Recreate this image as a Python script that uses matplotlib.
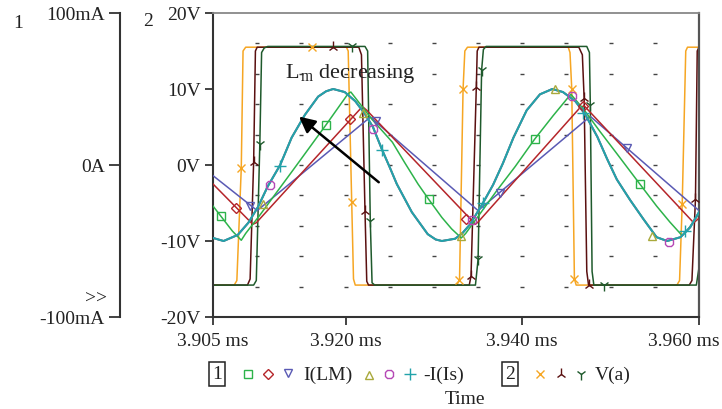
import matplotlib
matplotlib.use("Agg")
import matplotlib.pyplot as plt
import matplotlib.transforms as mtrans
import numpy as np

plt.rcParams['font.family'] = ['Liberation Serif', 'DejaVu Serif']
plt.rcParams['mathtext.fontset'] = 'custom'
plt.rcParams['mathtext.rm'] = 'Liberation Serif'
plt.rcParams['mathtext.it'] = 'Liberation Serif:italic'

# ---- data (time in microseconds, voltages in V, currents in mA) ----
# V(a), run 1 (orange)
va1_t = [3905.0, 3907.4, 3907.7, 3908.2, 3908.4, 3908.7, 3920.1, 3920.3, 3920.4, 3920.9, 3921.1,
         3932.6, 3932.9, 3933.3, 3933.5, 3933.8, 3945.2, 3945.4, 3945.6, 3945.9, 3946.1,
         3957.5, 3957.8, 3958.1, 3958.5, 3958.7, 3960.0]
va1_v = [-15.8, -15.8, -15.2, -0.4, 15.0, 15.5, 15.5, 15.0, 10.0, -15.0, -15.8,
         -15.8, -15.1, 10.0, 15.0, 15.5, 15.5, 14.8, 10.0, -15.0, -15.8,
         -15.8, -15.2, -5.1, 15.0, 15.5, 15.5]
va1_mt = [3908.2, 3916.2, 3920.7, 3932.8, 3933.3, 3945.6, 3945.9, 3958.1]
va1_mv = [-0.4, 15.5, -4.9, -15.1, 10.0, 10.0, -15.0, -5.1]

# V(a), run 2 (maroon)
va2_t = [3905.0, 3908.9, 3909.2, 3909.6, 3909.8, 3910.0, 3921.5, 3921.8, 3922.2, 3922.4, 3922.6,
         3934.0, 3934.2, 3934.8, 3934.9, 3935.1, 3946.4, 3946.8, 3947.0, 3947.3, 3947.5,
         3958.9, 3959.2, 3959.6, 3959.8, 3960.0]
va2_v = [-15.8, -15.8, -15.0, 0.4, 15.0, 15.5, 15.5, 14.5, -6.0, -15.3, -15.8,
         -15.8, -14.6, 10.3, 15.0, 15.5, 15.5, 14.5, 8.8, -14.0, -15.8,
         -15.8, -15.2, -4.5, 15.0, 15.5]
va2_mt = [3909.6, 3918.6, 3922.2, 3934.2, 3934.8, 3947.0, 3947.5, 3959.6]
va2_mv = [0.4, 15.5, -6.0, -14.6, 10.3, 8.8, -15.8, -4.5]

# V(a), run 3 (dark green)
va3_t = [3905.0, 3909.6, 3909.9, 3910.3, 3910.5, 3910.8, 3911.2, 3922.2, 3922.5, 3922.8, 3923.0, 3923.3,
         3934.7, 3935.0, 3935.4, 3935.6, 3935.9, 3947.3, 3947.6, 3947.7, 3947.9, 3948.1,
         3959.7, 3960.0, 3960.3]
va3_v = [-15.8, -15.8, -15.2, 2.8, 14.8, 15.4, 15.6, 15.6, 15.0, -7.4, -15.5, -15.8,
         -15.8, -12.4, 12.5, 15.2, 15.6, 15.6, 14.8, 7.9, -14.0, -15.8,
         -15.8, -13.5, 15.0]
va3_mt = [3910.3, 3920.7, 3922.8, 3935.0, 3935.4, 3947.7, 3949.3]
va3_mv = [2.8, 15.6, -7.4, -12.4, 12.5, 7.9, -15.8]

# -I(Is): the three runs overlap on screen
is_t = [3905.0, 3906.2, 3907.8, 3909.0, 3910.1, 3911.2, 3912.6, 3913.9, 3915.4, 3916.9, 3917.8,
        3918.6, 3919.9, 3921.1, 3922.2, 3923.1, 3924.1, 3925.0, 3925.8, 3927.5, 3929.3, 3930.2,
        3930.9, 3932.4, 3933.2, 3934.1, 3935.6, 3936.7, 3937.8, 3939.0, 3940.5, 3942.0, 3943.4,
        3944.6, 3946.0, 3947.1, 3948.5, 3949.6, 3950.7, 3952.2, 3953.7, 3955.2, 3956.4, 3957.9,
        3959.0, 3960.0]
is_i = [-48, -50, -46, -38, -27.5, -14, 0, 18, 33, 45, 48.5,
        50, 48, 42, 33.5, 25, 10.5, -1.5, -12.5, -31, -45.5, -49,
        -50, -48.5, -45, -39, -24.5, -13, 1, 18, 36, 46.5, 50,
        48, 42, 33.5, 18.5, 4, -9.5, -23, -35.5, -47.5, -50, -47.5,
        -41, -31]
is1_mt = [3910.7, 3922.0, 3933.1, 3943.7, 3954.7]
is1_mi = [-25.5, 34, -46.5, 50, -46.5]
is2_mt = [3911.5, 3923.1, 3934.3, 3945.6, 3956.6]
is2_mi = [-13, 23.5, -36, 45.5, -50.5]
is3_mt = [3912.6, 3924.1, 3935.6, 3946.9, 3958.4]
is3_mi = [-0.5, 10, -25, 34, -43.5]

# I(LM), run 1 (green)
lm1_t = [3905.0, 3905.8, 3907.2, 3908.2, 3908.7, 3910.3, 3914.1, 3917.8, 3920.3, 3920.6, 3921.4,
         3923.0, 3925.3, 3926.7, 3928.2, 3929.4, 3930.9, 3932.0, 3933.1, 3933.6, 3935.6, 3937.1,
         3939.2, 3941.4, 3943.5, 3945.2, 3945.5, 3946.9, 3948.8, 3950.7, 3953.3, 3955.2, 3956.7,
         3958.1, 3958.8, 3960.0]
lm1_i = [-27, -33, -43.5, -49.5, -45, -33, -3, 26.5, 47, 48, 42,
         30, 15, 1.5, -12.5, -22.5, -34.5, -42, -48, -45, -29, -17,
         -1, 17, 32.5, 44.5, 46.5, 37, 22, 7.5, -12.5, -27, -37.5,
         -46.5, -42, -32]
lm1_mt = [3905.9, 3917.8, 3929.4, 3941.4, 3953.3]
lm1_mi = [-33.5, 26.5, -22.5, 17, -12.5]

# I(LM), run 2 (red)
lm2_t = [3905.0, 3909.5, 3909.9, 3921.6, 3922.0, 3922.4, 3934.7, 3935.0, 3946.5, 3947.0, 3947.4,
         3959.4, 3960.0]
lm2_i = [-12.5, -39, -38, 36.5, 38, 36, -39, -37.5, 37.5, 39, 36.5, -38, -35]
lm2_mt = [3907.6, 3920.5, 3933.6, 3946.9]
lm2_mi = [-28.5, 30, -35.5, 39]

# I(LM), run 3 (blue)
lm3_t = [3905.0, 3910.0, 3922.8, 3935.0, 3947.7, 3960.0]
lm3_i = [-7, -30, 31.5, -30, 32, -30]
lm3_mt = [3909.2, 3923.4, 3937.5, 3951.9]
lm3_mi = [-27, 29, -18.5, 11.5]

x_ticks = [3905, 3920, 3940, 3960]
x_labels = ['3.905 ms', '3.920 ms', '3.940 ms', '3.960 ms']
v_ticks = [-20, -10, 0, 10, 20]
v_labels = ['-20V', '-10V', '0V', '10V', '20V']
i_ticks = [-100, 0, 100]
i_labels = ['-100mA', '0A', '100mA']

C_OR, C_MA, C_DG = '#F6A623', '#5A1010', '#1F5A2C'
C_GR, C_RD, C_BL = '#2DB34A', '#B5252A', '#5A5AB4'
C_OL, C_MG, C_TL = '#A9A93C', '#B548B5', '#22A3AA'

W, H = 722, 410
fig = plt.figure(figsize=(W / 100, H / 100), dpi=100)
ax = fig.add_axes([213 / W, 1 - 318 / H, (699 - 213) / W, (318 - 14) / H])
ax.set_xlim(3905, 3960)
ax.set_ylim(-20, 20)

# dotted grid
gt, gv = np.meshgrid(np.arange(3910, 3956, 5), np.arange(-16, 17, 4))
ax.plot(gt.ravel(), gv.ravel(), ls='none', marker='_', ms=2.2, mew=1.0, color='#444444', zorder=1)

lw = 1.1
mk = dict(ls='none', ms=6, mew=1.0, mfc='none', zorder=4)
ax.plot(va1_t, va1_v, color=C_OR, lw=lw, zorder=2)
ax.plot(va2_t, va2_v, color=C_MA, lw=lw, zorder=2)
ax.plot(va3_t, va3_v, color=C_DG, lw=lw, zorder=2)
ax.plot(va1_mt, va1_mv, marker='x', color=C_OR, **mk)
ax.plot(va2_mt, va2_mv, marker='2', color=C_MA, **dict(mk, ms=8))
ax.plot(va3_mt, va3_mv, marker='1', color=C_DG, **dict(mk, ms=8))

ax.set_xticks(x_ticks)
ax.set_xticklabels(x_labels)
ax.set_yticks(v_ticks)
ax.set_yticklabels(v_labels)
ax.tick_params(axis='both', direction='out', length=6, width=1.2, labelsize=14, colors='#222222')
ax.tick_params(axis='x', pad=5)
ax.tick_params(axis='y', pad=3)
for s in ['left', 'bottom']:
    ax.spines[s].set_linewidth(1.5)
    ax.spines[s].set_color('#333333')
ax.spines['top'].set_color('#888888')
ax.spines['top'].set_linewidth(1.3)
ax.spines['right'].set_color('#555555')
ax.spines['right'].set_linewidth(1.6)

last = ax.get_xticklabels()[-1]
last.set_transform(last.get_transform() + mtrans.ScaledTranslation(-0.15, 0, fig.dpi_scale_trans))

# current axis (axis 1)
ax2 = ax.twinx()
ax2.set_ylim(-100, 100)
ax2.yaxis.set_ticks_position('left')
ax2.spines['left'].set_position(('outward', 67))
ax2.spines['left'].set_visible(True)
ax2.spines['left'].set_linewidth(1.5)
ax2.spines['left'].set_color('#333333')
for s in ['right', 'top', 'bottom']:
    ax2.spines[s].set_visible(False)
ax2.set_yticks(i_ticks)
ax2.set_yticklabels(i_labels)
ax2.tick_params(axis='y', direction='out', length=8, width=1.2, labelsize=14, pad=3, colors='#222222')

ax2.plot(lm3_t, lm3_i, color=C_BL, lw=lw, zorder=2)
ax2.plot(lm2_t, lm2_i, color=C_RD, lw=lw, zorder=2)
ax2.plot(lm1_t, lm1_i, color=C_GR, lw=lw, zorder=2)
ax2.plot(is_t, is_i, color=C_OL, lw=1.3, zorder=3)
ax2.plot(is_t, is_i, color=C_MG, lw=1.3, zorder=3)
ax2.plot(is_t, is_i, color=C_TL, lw=1.5, zorder=3)
ax2.plot(lm1_mt, lm1_mi, marker='s', color=C_GR, **mk)
ax2.plot(lm2_mt, lm2_mi, marker='D', color=C_RD, **dict(mk, ms=5))
ax2.plot(lm3_mt, lm3_mi, marker='v', color=C_BL, **mk)
ax2.plot(is1_mt, is1_mi, marker='^', color=C_OL, **mk)
ax2.plot(is2_mt, is2_mi, marker='8', color=C_MG, **mk)
ax2.plot(is3_mt, is3_mi, marker='+', color=C_TL, **dict(mk, ms=8))

ax2.annotate('', xy=(3914.5, 6.6 * 5), xytext=(3924.0, -2.5 * 5),
             arrowprops=dict(arrowstyle='-|>', color='black', lw=1.8, mutation_scale=24))
ax2.text(3913.1, 12.2 * 5, r'$\mathrm{L}_{\mathrm{\,m}}$ decreasing', fontsize=16, ha='left',
         va='center', color='#222222')

# legend row, axis numbers (pixel layout)
lax = fig.add_axes([0, 0, 1, 1], zorder=-1)
lax.set_xlim(0, W)
lax.set_ylim(H, 0)
lax.axis('off')
tk = dict(fontsize=14, color='#222222', va='center')
lax.text(18, 24, '1', ha='center', **tk)
lax.text(148, 21, '2', ha='center', **tk)
lax.text(107, 299, '>>', ha='right', **tk)
box = dict(boxstyle='square,pad=0.18', fc='white', ec='#222222', lw=1.1)
lax.text(217, 375, '1', ha='center', bbox=box, **tk)
lax.text(510, 375, '2', ha='center', bbox=box, **tk)
lm = dict(ls='none', ms=6, mew=1.0, mfc='none')
lax.plot([248], [375], marker='s', color=C_GR, **lm)
lax.plot([268], [375], marker='D', color=C_RD, **dict(lm, ms=5))
lax.plot([288], [374], marker='v', color=C_BL, **lm)
lax.text(303, 375, 'I(LM)', ha='left', **tk)
lax.plot([369], [376], marker='^', color=C_OL, **lm)
lax.plot([389], [375], marker='8', color=C_MG, **lm)
lax.plot([410], [375], marker='+', color=C_TL, **dict(lm, ms=8))
lax.text(423, 375, '-I(Is)', ha='left', **tk)
lax.plot([540], [375], marker='x', color=C_OR, **lm)
lax.plot([561], [375], marker='2', color=C_MA, **dict(lm, ms=8))
lax.plot([581], [375], marker='1', color=C_DG, **dict(lm, ms=8))
lax.text(595, 375, 'V(a)', ha='left', **tk)
lax.text(465, 400, 'Time', ha='center', **tk)

fig.savefig('out.png', dpi=100, facecolor='white')
